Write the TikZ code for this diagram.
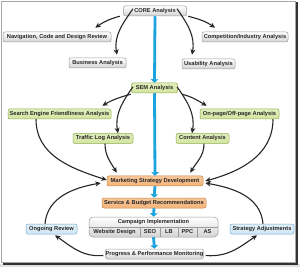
\documentclass[tikz,border=0pt]{standalone}
\usepackage{fontspec}
\setmainfont{Liberation Sans}
\usetikzlibrary{arrows.meta,shadings}
\definecolor{gfill}{HTML}{D4E5A0}
\definecolor{gline}{HTML}{8FAE4C}
\definecolor{ofill}{HTML}{F4B47A}
\definecolor{oline}{HTML}{C8823E}
\definecolor{bfill}{HTML}{CFE6F3}
\definecolor{bline}{HTML}{74AED4}
\definecolor{kline}{HTML}{9A9A9A}
\definecolor{cyanarrow}{HTML}{1AA3DD}
\tikzset{
  box/.style={rounded corners=2pt, line width=0.5pt, minimum height=10pt, inner sep=0pt,
     font=\fontsize{5.7}{6}\selectfont\bfseries, text=black!85},
  graybox/.style={box, draw=kline, top color=white, bottom color=black!17},
  greenbox/.style={box, draw=gline, top color=gfill!70!white, bottom color=gfill},
  orangebox/.style={box, draw=oline, top color=ofill!75!white, bottom color=ofill},
  bluebox/.style={box, draw=bline, top color=bfill!60!white, bottom color=bfill},
  cell/.style={inner sep=0pt, minimum height=10pt, font=\fontsize{5.7}{6}\selectfont\bfseries, text=black!85},
  conn/.style={line width=1.1pt, black!85, -{Stealth[length=5.5pt,width=5pt]}},
  bigarrow/.style={line width=2.8pt, cyanarrow, -{Triangle[length=3.5pt,width=7.5pt]}},
}
\begin{document}
\begin{tikzpicture}[x=1pt,y=1pt]
\useasboundingbox (0,0) rectangle (300,-267);
\fill[black!12] (0,-264) rectangle (300,-267);
\fill[black!80] (3,-2) rectangle (297.5,-264.5);
\fill[white,draw=black!35,line width=0.4pt] (1,-1) rectangle (295.5,-262.5);

% nodes
\node[graybox, minimum width=63pt] (core) at (155,-11) {CORE Analysis};
\node[graybox, minimum width=108pt] (nav) at (57,-37) {Navigation, Code and Design Review};
\node[graybox, minimum width=86pt] (comp) at (245,-37) {Competition/Industry Analysis};
\node[graybox, minimum width=57pt] (bus) at (97.5,-63) {Business Analysis};
\node[graybox, minimum width=53pt] (usa) at (208.5,-64) {Usability Analysis};

\node[greenbox, minimum width=46pt] (sem) at (154.5,-88) {SEM Analysis};
\node[greenbox, minimum width=103pt] (sef) at (59.5,-114) {Search Engine Friendliness Analysis};
\node[greenbox, minimum width=79pt] (onp) at (239.5,-114) {On-page/Off-page Analysis};
\node[greenbox, minimum width=60pt] (traf) at (103,-138.5) {Traffic Log Analysis};
\node[greenbox, minimum width=53pt] (cont) at (202.5,-138.5) {Content Analysis};

\node[orangebox, minimum width=96pt] (mkt) at (155,-181) {Marketing Strategy Development};
\node[orangebox, minimum width=104pt] (svc) at (154,-203) {Service \& Budget Recommendations};

\node[graybox, rounded corners=4pt, minimum width=129pt, minimum height=20pt] (camp) at (153.5,-227) {};
\node[cell] (camptitle) at (153.5,-222) {Campaign Implementation};
\draw[kline, line width=0.5pt] (camp.west) -- (camp.east);
\node[cell, minimum width=51pt] (c1) at (114.5,-232) {Website Design};
\node[cell, minimum width=20pt] (c2) at (150,-232) {SEO};
\node[cell, minimum width=18pt] (c3) at (169,-232) {LB};
\node[cell, minimum width=19pt] (c4) at (187.5,-232) {PPC};
\node[cell, minimum width=21pt] (c5) at (207.5,-232) {AS};
\foreach \a/\b in {c1/c2,c2/c3,c3/c4,c4/c5}
  \draw[kline, line width=0.5pt] (\a.north east) -- (\a.south east);

\node[bluebox, minimum width=51pt] (ongo) at (51.5,-229) {Ongoing Review};
\node[bluebox, minimum width=64pt] (strat) at (262,-229) {Strategy Adjustments};
\node[graybox, minimum width=97pt] (prog) at (154.5,-254) {Progress \& Performance Monitoring};

% blue arrows
\draw[bigarrow] (core.south) -- (sem.north);
\draw[bigarrow] (sem.south) -- (mkt.north);
\draw[bigarrow] (mkt.south) -- (svc.north);
\draw[bigarrow] (svc.south) -- (camp.north);
\draw[bigarrow] (camp.south) -- (prog.north);

% black connectors
\draw[conn] ([xshift=-3.5pt]core.south west) to[out=195,in=35] ([xshift=-16pt,yshift=4pt]nav.north east);
\draw[conn] ([xshift=-22pt,yshift=-3pt]core.north) to[out=235,in=100] ([xshift=19.5pt,yshift=3pt]bus.north);
\draw[conn] ([xshift=22pt,yshift=-3pt]core.north) to[out=-55,in=80] ([xshift=-16.5pt,yshift=4pt]usa.north);
\draw[conn] ([xshift=1.5pt]core.south east) to[out=-15,in=145] ([xshift=-30pt,yshift=4pt]comp.north);

\draw[conn] ([xshift=-0.5pt,yshift=-1pt]sem.south west) to[out=195,in=30] ([xshift=-9pt,yshift=3pt]sef.north east);
\draw[conn] ([xshift=-21.5pt,yshift=-4pt]sem.north) to[out=235,in=100] ([xshift=15pt,yshift=0pt]traf.north);
\draw[conn] ([xshift=22.5pt,yshift=-4pt]sem.north) to[out=-55,in=80] ([xshift=-10.5pt,yshift=0pt]cont.north);
\draw[conn] ([xshift=4.5pt,yshift=-1pt]sem.south east) to[out=-15,in=150] ([xshift=7pt,yshift=3pt]onp.north west);

\draw[conn] ([xshift=-23.5pt]sef.south) to[out=270,in=162] ([yshift=1pt]mkt.west);
\draw[conn] ([xshift=2pt]traf.south) to[out=270,in=120] ([xshift=10pt,yshift=3pt]mkt.north west);
\draw[conn] ([xshift=1.5pt]cont.south) to[out=270,in=60] ([xshift=-13pt,yshift=3pt]mkt.north east);
\draw[conn] ([xshift=33.5pt]onp.south) to[out=270,in=15] ([xshift=2pt,yshift=0pt]mkt.east);

\draw[conn] ([xshift=-6.5pt]ongo.north) to[out=85,in=190] ([xshift=-6pt,yshift=-2pt]mkt.west);
\draw[conn] ([xshift=1pt]strat.north) to[out=95,in=-10] ([xshift=2pt,yshift=-2pt]mkt.east);
\draw[conn] ([xshift=-2pt,yshift=-1.5pt]prog.west) to[out=185,in=-35] ([xshift=3.5pt,yshift=-1pt]ongo.south);
\draw[conn] ([xshift=2pt,yshift=-1.5pt]prog.east) to[out=-5,in=215] ([xshift=-5pt,yshift=-1pt]strat.south);
\end{tikzpicture}
\end{document}
